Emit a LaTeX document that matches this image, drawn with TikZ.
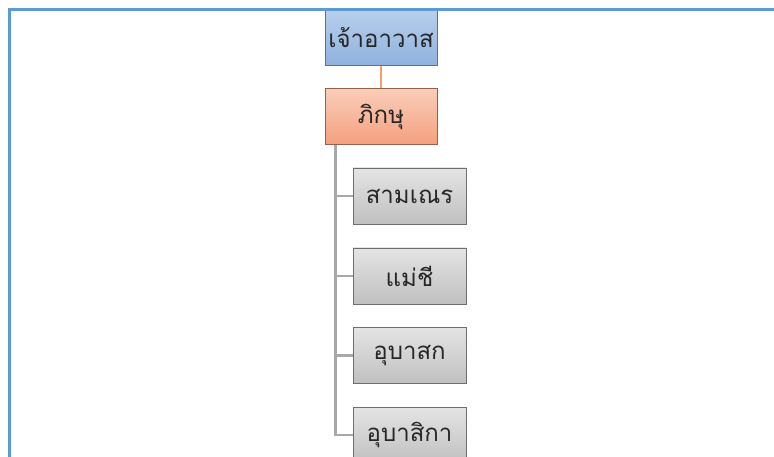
\documentclass[tikz,border=0pt]{standalone}
\usepackage{fontspec}
\newfontfamily\thaifont[Script=Thai]{Loma}
\usetikzlibrary{calc}

\definecolor{framecol}{RGB}{91,155,213}
\definecolor{bluetop}{RGB}{184,207,236}
\definecolor{bluebot}{RGB}{143,178,222}
\definecolor{blueline}{RGB}{96,112,138}
\definecolor{salmtop}{RGB}{250,205,185}
\definecolor{salmbot}{RGB}{244,160,126}
\definecolor{salmline}{RGB}{150,96,78}
\definecolor{graytop}{RGB}{228,228,228}
\definecolor{graybot}{RGB}{192,192,192}
\definecolor{grayline}{RGB}{110,110,110}
\definecolor{linkorange}{RGB}{245,158,108}
\definecolor{linkgray}{RGB}{168,168,168}

\begin{document}
\begin{tikzpicture}[x=1pt, y=-1pt]

    \tikzstyle{box}=[rectangle, draw, line width=0.8pt, minimum width=112pt, minimum height=56pt, inner sep=0pt, font=\thaifont\fontsize{24}{28}\selectfont, text=black!85];
    \tikzstyle{head}=[box, draw=blueline, top color=bluetop, bottom color=bluebot];
    \tikzstyle{monk}=[box, draw=salmline, top color=salmtop, bottom color=salmbot];
    \tikzstyle{member}=[box, draw=grayline, top color=graytop, bottom color=graybot, minimum width=113pt];

    \useasboundingbox (0,0) rectangle (774,457);

    \node[head] (abbot) at (381, 37.5) {เจ้าอาวาส};
    \node[monk] (bhikkhu) at ($(abbot)+(0,79)$) {ภิกษุ};

    \node[member] (novice) at ($(bhikkhu)+(28.5,79.5)$) {สามเณร};
    \node[member] (nun) at ($(novice)+(0,80)$) {แม่ชี};
    \node[member] (layman) at ($(nun)+(0,79.5)$) {อุบาสก};
    \node[member] (laywoman) at ($(layman)+(0,79.5)$) {อุบาสิกา};

    \coordinate (trunk) at ($(bhikkhu.south west)+(11,0)$);

    \draw[linkorange, line width=2.5pt] (abbot) -- (bhikkhu);
    \draw[linkgray, line width=2.5pt] (trunk) |- (novice);
    \draw[linkgray, line width=2.5pt] (trunk) |- (nun);
    \draw[linkgray, line width=2.5pt] (trunk) |- (layman);
    \draw[linkgray, line width=2.5pt] (trunk) |- (laywoman);

    \draw[framecol, line width=3pt] (9.5,457) -- (9.5,9.5) -- (774,9.5);

\end{tikzpicture}
\end{document}
